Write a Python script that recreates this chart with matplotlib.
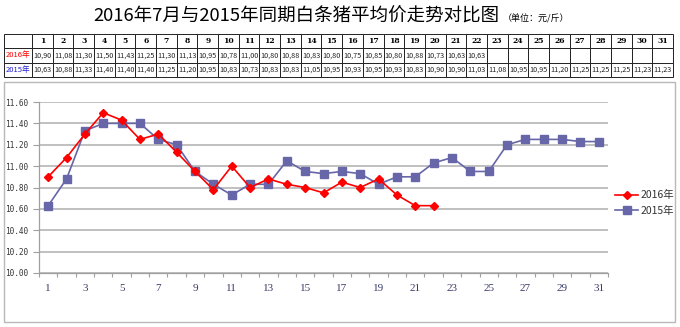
import numpy as np
import matplotlib
matplotlib.use("Agg")
from matplotlib import pyplot as plt
from matplotlib.patches import Rectangle

plt.rcParams['font.family'] = ['Noto Sans CJK SC', 'DejaVu Sans']

days = list(range(1, 32))
price_2016 = [10.90, 11.08, 11.30, 11.50, 11.43, 11.25, 11.30, 11.13, 10.95, 10.78,
              11.00, 10.80, 10.88, 10.83, 10.80, 10.75, 10.85, 10.80, 10.88, 10.73,
              10.63, 10.63]
price_2015 = [10.63, 10.88, 11.33, 11.40, 11.40, 11.40, 11.25, 11.20, 10.95, 10.83,
              10.73, 10.83, 10.83, 11.05, 10.95, 10.93, 10.95, 10.93, 10.83, 10.90,
              10.90, 11.03, 11.08, 10.95, 10.95, 11.20, 11.25, 11.25, 11.25, 11.23,
              11.23]
label_2016 = "2016年"
label_2015 = "2015年"
title = "2016年7月与2015年同期白条猪平均价走势对比图"
unit = "（单位：元/斤）"

red = "#ff0000"
blue = "#6666a8"

W, H = 680, 327
fig = plt.figure(figsize=(W / 100, H / 100), dpi=100)

def fx(px):
    return px / W

def fy(py):
    return 1 - py / H

# title
fig.text(fx(93), fy(17), title, fontsize=13.3, ha='left', va='center')
fig.text(fx(503), fy(19), unit, fontsize=6.5, ha='left', va='center')

# table
tab_ax = fig.add_axes([fx(4), fy(77), fx(669), (77 - 34) / H])
tab_ax.axis('off')
def fmt(v):
    return ("%.2f" % v).replace('.', ',')
rows = [[''] + [str(d) for d in days],
        [label_2016] + [fmt(v) for v in price_2016] + [''] * (31 - len(price_2016)),
        [label_2015] + [fmt(v) for v in price_2015]]
first_w = 28 / 669
col_w = [first_w] + [(1 - first_w) / 31] * 31
tbl = tab_ax.table(cellText=rows, colWidths=col_w, cellLoc='center', bbox=[0, 0, 1, 1])
tbl.auto_set_font_size(False)
tbl.set_fontsize(5.2)
for (r, c), cell in tbl.get_celld().items():
    cell.set_edgecolor('#222222')
    cell.set_linewidth(0.7)
    cell.PAD = 0.02
    if r == 0:
        cell.set_text_props(fontweight='bold', fontsize=5.5, family=['DejaVu Serif'])
    elif c == 0:
        cell.set_text_props(color=red if r == 1 else '#2222cc', fontsize=5.5)
    else:
        cell.set_text_props(color='#222222')

# chart frame
fig.patches.append(Rectangle((fx(4), fy(322)), fx(671), (322 - 82) / H,
                             transform=fig.transFigure, fill=False,
                             edgecolor='#b8b8b8', linewidth=1))

# plot
ax = fig.add_axes([fx(39), fy(273), fx(569), (273 - 102) / H])
x16 = np.arange(1, len(price_2016) + 1)
x15 = np.arange(1, len(price_2015) + 1)
ax.plot(x16, price_2016, color=red, marker='D', markersize=4.2, linewidth=1.2,
        label=label_2016, zorder=4)
ax.plot(x15, price_2015, color=blue, marker='s', markersize=5.5, linewidth=1.2,
        label=label_2015, zorder=3)

ax.set_xlim(0.5, 31.5)
ax.set_ylim(10.0, 11.6)
ax.set_yticks(np.arange(10.0, 11.61, 0.2))
ax.set_yticklabels(["%.2f" % v for v in np.arange(10.0, 11.61, 0.2)],
                   family='DejaVu Sans Mono', fontsize=5.6, color='#333333')
ax.yaxis.grid(True, color='#c0c0c0', linewidth=1.4)
ax.set_axisbelow(True)

ax.set_xticks(np.arange(0.5, 32, 1))
ax.set_xticklabels([])
ax.set_xticks(days[::2], minor=True)
ax.set_xticklabels([str(d) for d in days[::2]], minor=True,
                   family='Liberation Serif', fontsize=8, color='#3a3a6a')
ax.tick_params(axis='x', which='major', length=3, color='#a0a0a0', width=0.8)
ax.tick_params(axis='x', which='minor', length=0, pad=8)
ax.tick_params(axis='y', length=4, color='#a0a0a0', width=0.8, pad=4)

for s in ['top', 'right']:
    ax.spines[s].set_visible(False)
for s in ['left', 'bottom']:
    ax.spines[s].set_color('#a0a0a0')
    ax.spines[s].set_linewidth(0.9)

fig.legend(loc='center left', bbox_to_anchor=(fx(606), fy(203)), frameon=False,
           fontsize=7.5, handlelength=2.2, handletextpad=0.2, labelspacing=0.5,
           labelcolor='#333333')

fig.savefig("out.png", dpi=100)
